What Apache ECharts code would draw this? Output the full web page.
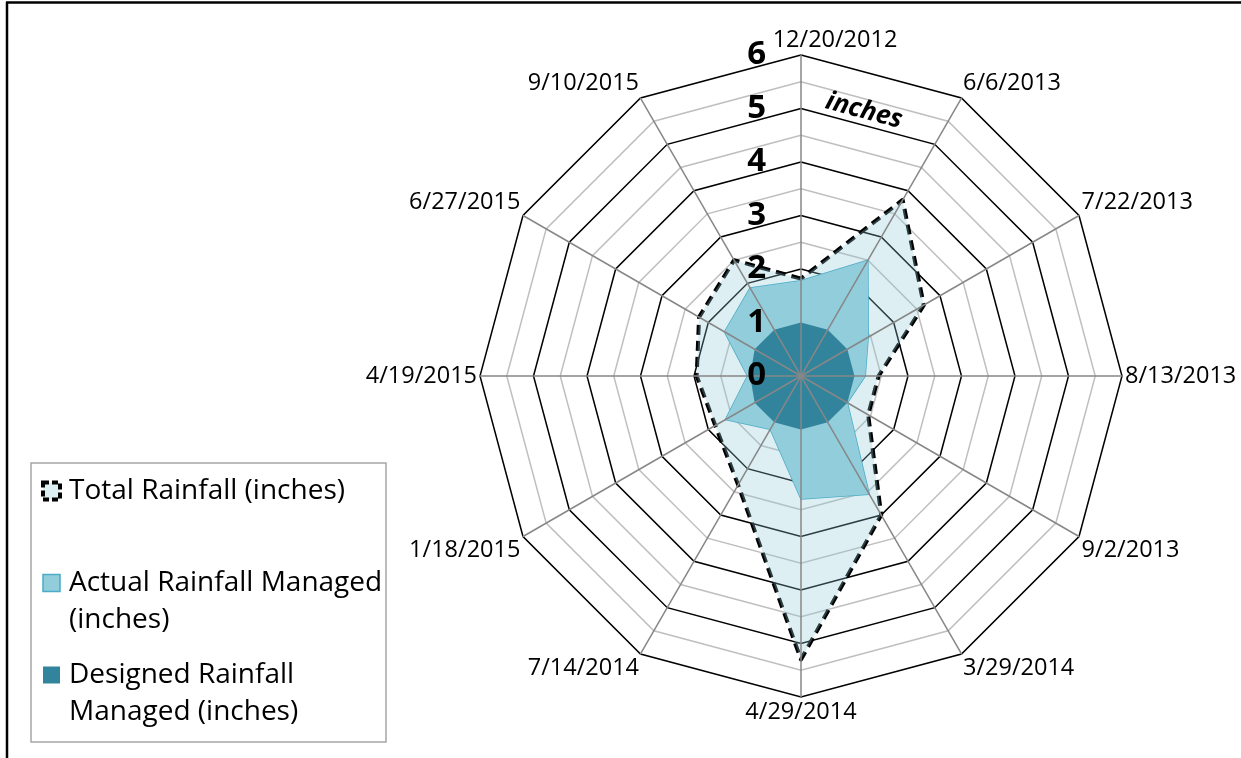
<!DOCTYPE html>
<html>
<head>
<meta charset="utf-8">
<script src="https://cdn.jsdelivr.net/npm/echarts@6/dist/echarts.min.js"></script>
<style>
  html, body { margin: 0; padding: 0; background: #fff; }
  #chart { width: 1241px; height: 758px; }
</style>
</head>
<body>
<div id="chart"></div>
<script>
// ---- data (clockwise from the top) ----
const categories = ['12/20/2012', '6/6/2013', '7/22/2013', '8/13/2013', '9/2/2013', '3/29/2014',
  '4/29/2014', '7/14/2014', '1/18/2015', '4/19/2015', '6/27/2015', '9/10/2015'];
const totalRainfall    = [1.82, 3.8, 2.65, 1.45, 1.45, 3.0, 5.3, 2.35, 1.85, 1.95, 2.2, 2.5];
const actualManaged    = [1.78, 2.5, 1.45, 1.2, 1.0, 2.55, 2.3, 1.15, 1.63, 1.0, 1.65, 1.9];
const designedManaged  = [1, 1, 1, 1, 1, 1, 1, 1, 1, 0.95, 1, 1];
const seriesNames = ['Total Rainfall (inches)', 'Actual Rainfall Managed (inches)', 'Designed Rainfall Managed (inches)'];
const legendLines = {
  'Total Rainfall (inches)': ['Total Rainfall (inches)'],
  'Actual Rainfall Managed (inches)': ['Actual Rainfall Managed', '(inches)'],
  'Designed Rainfall Managed (inches)': ['Designed Rainfall', 'Managed (inches)']
};
const axisMin = 0, axisMax = 6, axisStep = 0.5;
const unitLabel = 'inches';

// ---- build ----
const n = categories.length;
// ECharts radar runs counter-clockwise; reorder so the picture reads clockwise
const order = [0];
for (let k = n - 1; k >= 1; k--) order.push(k);
const reorder = arr => order.map(k => arr[k]);

const indicators = order.map(k => {
  const ang = k * 360 / n;
  let va = 'middle';
  if (ang < 90 || ang > 270) va = 'bottom';
  else if (ang > 90 && ang < 270) va = 'top';
  const style = { verticalAlign: va };
  if (k === 0) style.padding = [0, 0, 0, 68];
  return { name: categories[k], min: axisMin, max: axisMax, nameTextStyle: style };
});
const labelIndicators = order.map((k, i) => ({
  name: categories[k], min: axisMin, max: axisMax, axisLabel: { show: i === 0 }
}));

const FONT = 'Open Sans';
const center = [801, 376];
const radius = 321;
const splitNumber = Math.round((axisMax - axisMin) / axisStep);

const chart = echarts.init(document.getElementById('chart'), null, { renderer: 'canvas' });
chart.setOption({
  animation: false,
  backgroundColor: '#fff',
  radar: [
    {
      z: 0,
      center, radius, startAngle: 90, shape: 'polygon', splitNumber,
      indicator: indicators,
      axisNameGap: 3,
      axisName: { color: '#000', fontSize: 23.5, fontFamily: FONT },
      axisLine: { show: false },
      axisLabel: { show: false },
      splitArea: { show: false },
      splitLine: { lineStyle: { color: ['#000000', '#bfbfbf'], width: 1.5 } }
    },
    {
      z: 3,
      center, radius, startAngle: 90, shape: 'polygon', splitNumber,
      indicator: labelIndicators,
      axisName: { show: false },
      axisLine: { show: true, lineStyle: { color: '#878787', width: 1.5 } },
      splitArea: { show: false },
      splitLine: { show: false },
      axisLabel: {
        show: false, color: '#000', fontSize: 33, fontWeight: 'bold', fontFamily: FONT, margin: 35,
        formatter: v => (Math.abs(v - Math.round(v)) < 1e-9 ? String(Math.round(v)) : '')
      }
    }
  ],
  legend: {
    orient: 'vertical', left: 41, top: 435.5, padding: 0,
    itemWidth: 17, itemHeight: 17, itemGap: -19,
    textStyle: { fontSize: 28, fontFamily: FONT, color: '#000', lineHeight: 37, padding: [0, 0, 0, 4] },
    formatter: name => {
      const ls = legendLines[name];
      return ls.length === 1 ? '\n' + ls[0] + '\n' : '\n' + ls.join('\n');
    },
    selectedMode: false,
    data: [
      { name: seriesNames[0], icon: 'rect', itemStyle: { color: '#DEEFF3', borderColor: '#000', borderWidth: 4, borderType: [6, 3] } },
      { name: seriesNames[1], icon: 'rect', itemStyle: { color: '#92CDDC', borderColor: '#4BACC6', borderWidth: 1.5 } },
      { name: seriesNames[2], icon: 'rect', itemStyle: { color: '#31849B', borderWidth: 0 } }
    ]
  },
  graphic: [
    { type: 'line', shape: { x1: 6, y1: 2.5, x2: 1241, y2: 2.5 }, style: { stroke: '#000', lineWidth: 2.5 }, silent: true },
    { type: 'line', shape: { x1: 7, y1: 2, x2: 7, y2: 758 }, style: { stroke: '#000', lineWidth: 2.5 }, silent: true },
    { type: 'rect', z: -1, shape: { x: 31, y: 463, width: 355, height: 279 }, style: { fill: '#fff', stroke: '#a6a6a6', lineWidth: 1.5 }, silent: true },
    { type: 'text', z: 100, x: 864, y: 111, rotation: -0.26,
      style: { text: unitLabel, fontSize: 26, fontWeight: 'bold', fontStyle: 'italic', fontFamily: FONT, fill: '#000', align: 'center', verticalAlign: 'middle' } }
  ],
  series: [
    {
      type: 'radar', radarIndex: 0, z: 2, symbol: 'none', silent: true,
      lineStyle: { color: '#000', width: 4, type: [10, 6] },
      areaStyle: { color: '#93CBD8', opacity: 0.3 },
      itemStyle: { color: '#DEEFF3' },
      data: [{ name: seriesNames[0], value: reorder(totalRainfall) }]
    },
    {
      type: 'radar', radarIndex: 0, z: 2, symbol: 'none', silent: true,
      lineStyle: { color: '#4BACC6', width: 1.5 },
      areaStyle: { color: '#92CDDC', opacity: 1 },
      itemStyle: { color: '#92CDDC' },
      data: [{ name: seriesNames[1], value: reorder(actualManaged) }]
    },
    {
      type: 'radar', radarIndex: 0, z: 2, symbol: 'none', silent: true,
      lineStyle: { width: 0, color: '#31849B' },
      areaStyle: { color: '#31849B', opacity: 1 },
      itemStyle: { color: '#31849B' },
      data: [{ name: seriesNames[2], value: reorder(designedManaged) }]
    }
  ]
});
</script>
</body>
</html>
